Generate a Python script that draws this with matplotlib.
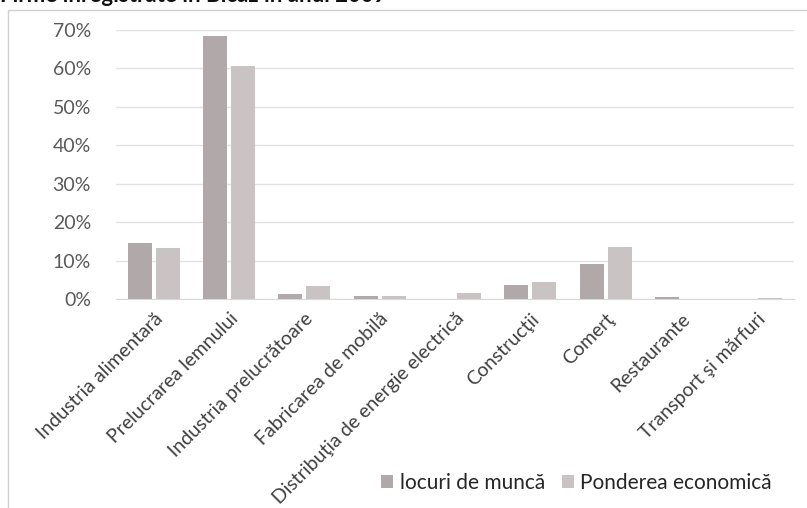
import matplotlib.pyplot as plt
import numpy as np
from matplotlib.patches import Rectangle

categories = [
    "Industria alimentară",
    "Prelucrarea lemnului",
    "Industria prelucrătoare",
    "Fabricarea de mobilă",
    "Distribuţia de energie electrică",
    "Construcţii",
    "Comerţ",
    "Restaurante",
    "Transport şi mărfuri",
]
locuri_munca = [14.5, 68.5, 1.3, 0.8, 0.1, 3.6, 9.1, 0.6, 0.1]
ponderea_economica = [13.3, 60.5, 3.5, 0.9, 1.6, 4.5, 13.6, 0.1, 0.3]
y_ticks = [0, 10, 20, 30, 40, 50, 60, 70]

plt.rcParams["font.family"] = ["Lato", "DejaVu Sans"]

fig = plt.figure(figsize=(8.07, 5.08), dpi=100)
ax = fig.add_axes([0.1437, 0.4114, 0.8403, 0.5296])

x = np.arange(len(categories))
w = 0.32
off = 0.185
ax.bar(x - off, locuri_munca, w, color="#b1a9a9", label="locuri de muncă", zorder=3)
ax.bar(x + off, ponderea_economica, w, color="#c9c3c3", label="Ponderea economică", zorder=3)

ax.set_xlim(-0.5, len(categories) - 0.5)
ax.set_ylim(0, 70)
ax.set_yticks(y_ticks)
ax.set_yticklabels([f"{v}%" for v in y_ticks], fontsize=14, color="#5a5a5a")
ax.yaxis.grid(True, color="#e2e2e2", linewidth=1, zorder=0)
ax.set_xticks(x)
ax.set_xticklabels(categories, rotation=45, ha="right", rotation_mode="anchor",
                   fontsize=14, color="#404040")
ax.tick_params(axis="both", length=0, pad=8)
ax.tick_params(axis="y", pad=18)
for s in ["top", "right", "left"]:
    ax.spines[s].set_visible(False)
ax.spines["bottom"].set_color("#d9d9d9")

ax.legend(loc="lower right", bbox_to_anchor=(0.995, -0.79), ncol=2, frameon=False,
          fontsize=15, handlelength=0.6, handleheight=0.6, handletextpad=0.3,
          columnspacing=0.8, labelcolor="#262626")

fig.patches.append(Rectangle((0.010, -0.05), 1.2, 1.03, transform=fig.transFigure,
                             fill=False, edgecolor="#d0d0d0", linewidth=1))
fig.text(0.0, 1.008, "Firme înregistrate în Bicaz în anul 2009", fontsize=16,
         fontweight="bold", ha="left", va="center", color="#111111")

fig.savefig("out.png", dpi=100)
